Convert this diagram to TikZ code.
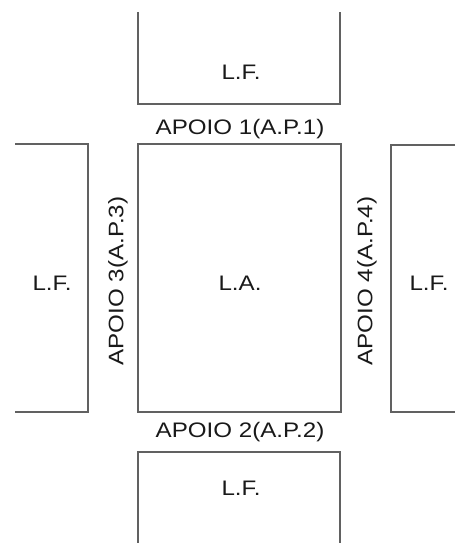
\documentclass[tikz,border=0pt]{standalone}
\usepackage{fontspec}
\setmainfont{Liberation Sans}
\begin{document}
\begin{tikzpicture}[x=1pt,y=-1pt,
  wall/.style={draw=black!62, line width=1.3pt},
  lbl/.style={text=black!90, inner sep=0pt, font=\fontsize{21}{22}\selectfont},
  vlbl/.style={lbl, rotate=90}]
\useasboundingbox (0,0) rectangle (455,543);
% top slab (L.F.)
\draw[wall] (138,12) -- (138,104) -- (340,104) -- (340,12);
% central slab (L.A.)
\draw[wall] (138,144) rectangle (341,412);
% left slab
\draw[wall] (15,144) -- (88,144) -- (88,412) -- (15,412);
% right slab
\draw[wall] (455,145) -- (391,145) -- (391,412) -- (455,412);
% bottom slab
\draw[wall] (138,543) -- (138,452) -- (340,452) -- (340,543);
% labels
\node[lbl] (lftop) at (241,72) {\scalebox{1.15}[1]{L.F.}};
\node[lbl] (ap1) at (240,129) {\scalebox{1.15}[1]{APOIO 1(A.P.1)}};
\node[lbl] (la) at (240,283) {\scalebox{1.15}[1]{L.A.}};
\node[vlbl] (ap3) at (118,281) {\scalebox{1.15}[1]{APOIO 3(A.P.3)}};
\node[vlbl] (ap4) at (367,281) {\scalebox{1.15}[1]{APOIO 4(A.P.4)}};
\node[lbl] (lfleft) at (52,283) {\scalebox{1.15}[1]{L.F.}};
\node[lbl] (lfright) at (429,283) {\scalebox{1.15}[1]{L.F.}};
\node[lbl] (ap2) at (240,432) {\scalebox{1.15}[1]{APOIO 2(A.P.2)}};
\node[lbl] (lfbot) at (241,488) {\scalebox{1.15}[1]{L.F.}};
\end{tikzpicture}
\end{document}
